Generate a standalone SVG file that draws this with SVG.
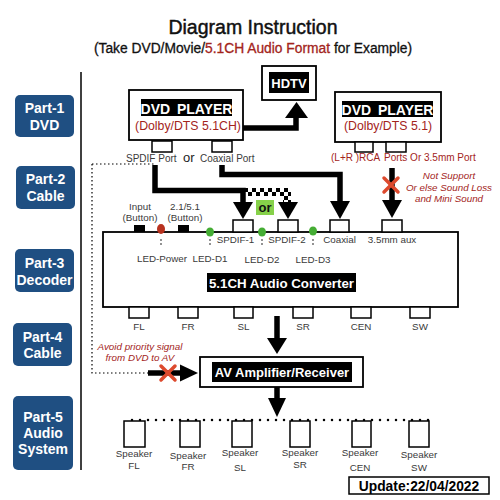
<svg xmlns="http://www.w3.org/2000/svg" width="500" height="500" viewBox="0 0 500 500">
<defs>
<style>
text{font-family:"Liberation Sans",Arial,sans-serif}
.part rect{fill:#1f4f82}
.part text{fill:#fff;font-weight:bold;font-size:14px;text-anchor:middle}
.box{fill:#fff;stroke:#000;stroke-width:1.8}
.port{fill:#fff;stroke:#000;stroke-width:1.5}
.wt{fill:#fff;font-weight:bold;text-anchor:middle}
.red{fill:#a3241b}
.it{fill:#a3241b;font-style:italic;font-size:9.8px;text-anchor:middle}
.g{fill:#3a3a3a;font-size:9.8px;text-anchor:middle}
.cab{fill:none;stroke:#000;stroke-width:5.5}
.dot{fill:none;stroke:#000;stroke-width:1.2;stroke-dasharray:1.5 2.5}
.ledd{fill:none;stroke:#000;stroke-width:1.6;stroke-linecap:round;stroke-dasharray:0 4}
.x{stroke:#dd4a2e;stroke-width:3.5;stroke-linecap:round}
.led{fill:#45ad34}
</style>
<pattern id="chk" width="8" height="8" patternUnits="userSpaceOnUse"><rect width="4" height="4" fill="#000"/><rect x="4" y="4" width="4" height="4" fill="#000"/></pattern>
</defs>
<rect width="500" height="500" fill="#fff"/>

<g id="title">
<text x="253" y="34" font-size="19.5" text-anchor="middle" fill="#111" stroke="#111" stroke-width="0.45">Diagram Instruction</text>
<text x="253" y="53" font-size="13.8" text-anchor="middle" fill="#111" stroke="#111" stroke-width="0.3">(Take DVD/Movie/<tspan fill="#a3241b" stroke="#a3241b">5.1CH Audio Format</tspan> for Example)</text>
</g>

<line x1="81" y1="72" x2="81" y2="470" stroke="#000" stroke-width="1.5"/>

<g id="part1" class="part"><rect x="15" y="95" width="59" height="42" rx="5"/><text x="44.5" y="113">Part-1</text><text x="44.5" y="129.5">DVD</text></g>
<g id="part2" class="part"><rect x="16" y="166" width="59" height="43" rx="5"/><text x="45.5" y="184">Part-2</text><text x="45.5" y="200.5">Cable</text></g>
<g id="part3" class="part"><rect x="15" y="249" width="59" height="43" rx="5"/><text x="44.5" y="268">Part-3</text><text x="44.5" y="284.5">Decoder</text></g>
<g id="part4" class="part"><rect x="13" y="323" width="59" height="43" rx="5"/><text x="42.5" y="342">Part-4</text><text x="42.5" y="358">Cable</text></g>
<g id="part5" class="part"><rect x="13" y="396" width="60" height="74" rx="5"/><text x="43" y="422">Part-5</text><text x="43" y="438">Audio</text><text x="43" y="454">System</text></g>

<g id="connectors">
<path class="dot" d="M92 164 H154 M92 164 V373 H148"/>
<path class="cab" d="M155 165 V190.5 H243 V205"/>
<polygon points="233,202 253,202 243,219"/>
<rect x="243" y="188" width="48" height="8" fill="url(#chk)"/>
<rect x="283" y="188" width="8" height="16" fill="url(#chk)"/>
<polygon points="278,202 298,202 288,219"/>
<path class="cab" d="M222 165 V174.5 H340 V204"/>
<polygon points="330,201 350,201 340,219"/>
<path class="cab" d="M243 128 H296 V116" stroke-width="6"/>
<polygon points="285,118 308,118 296.5,102"/>
<path class="cab" d="M392 168 V202"/>
<polygon points="382,200 402,200 392,218"/>
<line class="x" x1="384" y1="178" x2="398" y2="192"/><line class="x" x1="398" y1="178" x2="384" y2="192"/>
<path class="cab" d="M277 316 V340" stroke-width="6"/>
<polygon points="267,338 287,338 277,354"/>
<path class="cab" d="M148 373 H182" stroke-width="6"/>
<polygon points="180,364.5 180,381.5 198,373"/>
<line class="x" x1="161" y1="366" x2="175" y2="380"/><line class="x" x1="175" y1="366" x2="161" y2="380"/>
<path class="cab" d="M277 387 V400" stroke-width="6"/>
<polygon points="268,398 286,398 277,417"/>
<line x1="132" y1="420" x2="430" y2="420" stroke="#000" stroke-width="2.5" stroke-linecap="round" stroke-dasharray="0 8"/>
</g>

<g id="hdtv">
<rect class="box" x="262" y="66" width="54" height="34"/>
<rect x="269" y="72" width="40" height="21" fill="#000"/>
<text class="wt" x="289" y="88" font-size="13">HDTV</text>
</g>

<g id="dvd1">
<rect class="box" x="129" y="90" width="114" height="50"/>
<rect x="141" y="99" width="91" height="17" fill="#000"/>
<text class="wt" x="186.5" y="114" font-size="14" word-spacing="3">DVD PLAYER</text>
<text class="red" x="188" y="130" font-size="12.3" text-anchor="middle">(Dolby/DTS 5.1CH)</text>
<rect class="port" x="152" y="141" width="20" height="11"/>
<rect class="port" x="212" y="141" width="20" height="11"/>
<text x="126" y="161.5" font-size="10" fill="#3a3a3a">SPDIF Port</text>
<text x="183" y="161.5" font-size="13" fill="#222">or</text>
<text x="200" y="161.5" font-size="10" fill="#3a3a3a">Coaxial Port</text>
</g>

<g id="dvd2">
<rect class="box" x="335" y="92" width="106" height="50"/>
<rect x="342" y="101" width="91" height="16" fill="#000"/>
<text class="wt" x="387.5" y="114.5" font-size="14" word-spacing="3">DVD PLAYER</text>
<text class="red" x="388" y="130" font-size="12.3" text-anchor="middle">(Dolby/DTS 5.1)</text>
<rect class="port" x="355" y="142" width="18" height="10"/>
<rect class="port" x="386" y="142" width="20" height="10"/>
<text class="red" x="331" y="161" font-size="10">(L+R )RCA</text>
<text class="red" x="384" y="161" font-size="10">Ports Or 3.5mm Port</text>
<text class="it" x="449" y="179">Not Support</text>
<text class="it" x="449" y="191">Or else Sound Loss</text>
<text class="it" x="449" y="202">and Mini Sound</text>
</g>

<g id="orbox">
<rect x="256" y="200" width="18" height="15" fill="#86d14a"/>
<text x="265" y="212" font-size="13" font-weight="bold" text-anchor="middle" fill="#111">or</text>
</g>

<g id="decoder">
<rect class="box" x="103" y="232" width="355" height="75" stroke-width="2"/>
<rect class="port" x="233" y="220" width="20" height="12"/>
<rect class="port" x="278" y="220" width="20" height="12"/>
<rect class="port" x="330" y="220" width="19" height="12"/>
<rect class="port" x="382" y="220" width="20" height="12"/>
<rect x="134" y="225" width="11" height="7" fill="#000"/>
<rect x="178" y="225" width="11" height="7" fill="#000"/>
<ellipse cx="161" cy="229" rx="4" ry="5" fill="#b8321f"/>
<ellipse class="led" cx="210" cy="232" rx="4" ry="4.5"/>
<ellipse class="led" cx="262" cy="232" rx="4" ry="4.5"/>
<ellipse class="led" cx="313" cy="231" rx="4" ry="4.5"/>
<path class="ledd" d="M161 240 V248 M210 240 V248 M262 240 V248 M313 240 V248"/>
<text class="g" x="140" y="210">Input</text>
<text class="g" x="140" y="221">(Button)</text>
<text class="g" x="185" y="210">2.1/5.1</text>
<text class="g" x="185" y="221">(Button)</text>
<text class="g" x="162" y="262">LED-Power</text>
<text class="g" x="210" y="262">LED-D1</text>
<text class="g" x="262" y="263">LED-D2</text>
<text class="g" x="313" y="262.5">LED-D3</text>
<text class="g" x="235.5" y="243">SPDIF-1</text>
<text class="g" x="287" y="243">SPDIF-2</text>
<text class="g" x="339.5" y="243">Coaxial</text>
<text class="g" x="392" y="243">3.5mm aux</text>
<rect x="207" y="273" width="149" height="19" fill="#000"/>
<text class="wt" x="281.5" y="288" font-size="13.3">5.1CH Audio Converter</text>
<rect class="port" x="129" y="307" width="20" height="11"/>
<rect class="port" x="178" y="307" width="20" height="11"/>
<rect class="port" x="234" y="307" width="19" height="11"/>
<rect class="port" x="293" y="307" width="20" height="11"/>
<rect class="port" x="351" y="307" width="20" height="11"/>
<rect class="port" x="410" y="307" width="20" height="11"/>
<text class="g" x="139" y="330">FL</text>
<text class="g" x="188" y="330">FR</text>
<text class="g" x="243.5" y="330">SL</text>
<text class="g" x="303" y="330">SR</text>
<text class="g" x="361" y="330">CEN</text>
<text class="g" x="420" y="330">SW</text>
</g>

<g id="avoid">
<text class="it" x="140" y="349.5">Avoid priority signal</text>
<text class="it" x="140" y="361">from DVD to AV</text>
</g>

<g id="amplifier">
<rect class="box" x="200" y="357" width="163" height="30"/>
<rect x="212" y="362" width="140" height="20" fill="#000"/>
<text class="wt" x="282" y="376.5" font-size="13">AV Amplifier/Receiver</text>
</g>

<g id="speakers">
<rect class="port" x="124" y="421" width="21" height="26"/>
<rect class="port" x="180" y="421" width="20" height="26"/>
<rect class="port" x="232" y="421" width="20" height="26"/>
<rect class="port" x="290" y="421" width="20" height="26"/>
<rect class="port" x="352" y="421" width="19" height="26"/>
<rect class="port" x="409" y="421" width="20" height="26"/>
<text class="g" x="134" y="457">Speaker</text><text class="g" x="134" y="469">FL</text>
<text class="g" x="188" y="459">Speaker</text><text class="g" x="188" y="470">FR</text>
<text class="g" x="240" y="456">Speaker</text><text class="g" x="240" y="471">SL</text>
<text class="g" x="300" y="456">Speaker</text><text class="g" x="300" y="468">SR</text>
<text class="g" x="360" y="456">Speaker</text><text class="g" x="360" y="471">CEN</text>
<text class="g" x="419" y="458">Speaker</text><text class="g" x="419" y="471">SW</text>
</g>

<g id="update">
<rect x="349" y="477" width="140" height="17" fill="#fff" stroke="#000" stroke-width="1.5"/>
<text x="419" y="491" font-size="13.8" font-weight="bold" text-anchor="middle" fill="#000">Update:22/04/2022</text>
</g>
</svg>
